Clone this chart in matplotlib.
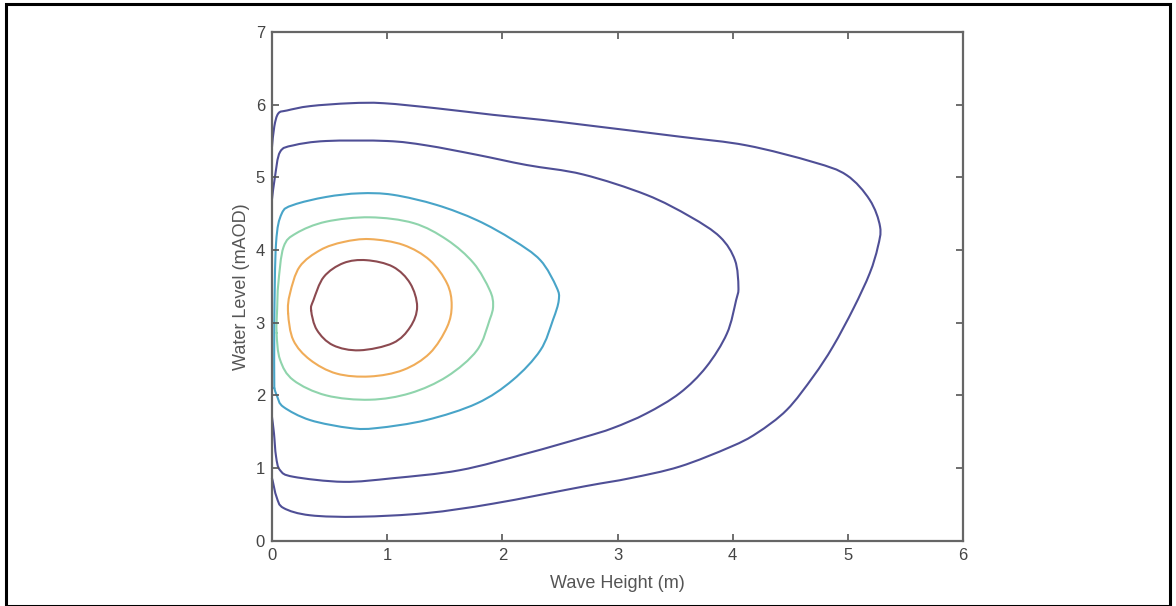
import matplotlib
matplotlib.use("Agg")
import matplotlib.pyplot as plt
from matplotlib.patches import Rectangle, PathPatch
from matplotlib.path import Path
import numpy as np

plt.rcParams['font.family'] = ['Liberation Sans', 'DejaVu Sans']

# Contour lines (wave height m, water level mAOD)
c1_x = [0.0, 0.005, 0.04, 0.10, 0.33, 0.76, 1.34, 1.92, 2.72, 3.11, 3.54, 3.98, 4.21, 4.47, 4.70, 4.87,
        5.05, 5.19, 5.26, 5.28, 5.19, 4.99, 4.70, 4.12, 3.54, 2.72, 2.35, 1.92, 1.43, 0.97, 0.68, 0.33,
        0.13, 0.055, 0.02, 0.0]
c1_y = [0.85, 0.83, 0.60, 0.45, 0.35, 0.33, 0.38, 0.51, 0.75, 0.86, 1.02, 1.29, 1.48, 1.80, 2.26, 2.67,
        3.20, 3.68, 4.04, 4.32, 4.69, 5.03, 5.21, 5.44, 5.56, 5.72, 5.79, 5.86, 5.95, 6.02, 6.02, 5.98,
        5.92, 5.88, 5.70, 5.42]

c2_x = [0.0, 0.017, 0.035, 0.07, 0.185, 0.62, 1.05, 1.63, 2.21, 2.70, 2.96, 3.25, 3.54, 3.77, 3.95,
        4.03, 4.05, 4.02, 3.89, 3.63, 3.25, 2.70, 2.21, 1.78, 1.34, 1.00, 0.47, 0.185, 0.07, 0.026, 0.0]
c2_y = [1.70, 1.48, 1.16, 0.97, 0.88, 0.81, 0.86, 0.97, 1.20, 1.42, 1.55, 1.75, 2.03, 2.39, 2.85,
        3.31, 3.49, 3.86, 4.18, 4.46, 4.76, 5.04, 5.17, 5.31, 5.44, 5.50, 5.50, 5.44, 5.35, 5.01, 4.70]

c3_x = [0.02, 0.046, 0.10, 0.33, 0.68, 0.91, 1.34, 1.78, 2.09, 2.33, 2.44, 2.49, 2.47, 2.33, 2.09,
        1.78, 1.43, 1.05, 0.76, 0.47, 0.185, 0.084, 0.035, 0.02, 0.02]
c3_y = [2.10, 1.98, 1.84, 1.66, 1.55, 1.55, 1.66, 1.89, 2.21, 2.62, 3.04, 3.31, 3.49, 3.86, 4.14,
        4.41, 4.62, 4.76, 4.78, 4.73, 4.62, 4.50, 4.09, 3.00, 2.10]

c4_x = [0.04, 0.07, 0.185, 0.47, 0.85, 1.20, 1.52, 1.78, 1.89, 1.92, 1.89, 1.75, 1.52, 1.23, 0.85,
        0.47, 0.21, 0.10, 0.055, 0.045, 0.04]
c4_y = [2.86, 2.49, 2.21, 2.00, 1.94, 2.03, 2.26, 2.62, 3.04, 3.24, 3.45, 3.82, 4.14, 4.37, 4.45,
        4.39, 4.23, 4.04, 3.54, 3.20, 2.86]

c5_x = [0.14, 0.185, 0.33, 0.56, 0.85, 1.14, 1.37, 1.52, 1.56, 1.52, 1.37, 1.14, 0.85, 0.62, 0.42,
        0.24, 0.156, 0.14]
c5_y = [3.13, 2.76, 2.49, 2.30, 2.26, 2.35, 2.58, 2.94, 3.24, 3.54, 3.86, 4.07, 4.15, 4.11, 4.00,
        3.77, 3.40, 3.13]

c6_x = [0.34, 0.39, 0.53, 0.76, 1.05, 1.20, 1.26, 1.20, 1.05, 0.82, 0.62, 0.45, 0.36, 0.34]
c6_y = [3.17, 2.90, 2.69, 2.62, 2.72, 2.94, 3.22, 3.54, 3.77, 3.86, 3.82, 3.63, 3.31, 3.17]

contours = [(c1_x, c1_y), (c2_x, c2_y), (c3_x, c3_y), (c4_x, c4_y), (c5_x, c5_y), (c6_x, c6_y)]
colors = ['#4f4f96', '#4f4f96', '#48a4c8', '#8fd4ac', '#f0ac58', '#8c4a50']

x_ticks = [0, 1, 2, 3, 4, 5, 6]
y_ticks = [0, 1, 2, 3, 4, 5, 6, 7]


def smooth_path(xs, ys, closed):
    """Bezier path through the read points (Catmull-Rom style control points)."""
    p = np.column_stack([xs, ys]).astype(float)
    n = len(p)
    verts = [p[0]]
    codes = [Path.MOVETO]
    for i in range(n - 1):
        if closed:
            p0 = p[i - 1] if i > 0 else p[-2]
            p3 = p[i + 2] if i + 2 < n else p[1]
        else:
            p0 = p[i - 1] if i > 0 else p[i]
            p3 = p[i + 2] if i + 2 < n else p[i + 1]
        p1, p2 = p[i], p[i + 1]
        verts += [p1 + (p2 - p0) / 6.0, p2 - (p3 - p1) / 6.0, p2]
        codes += [Path.CURVE4] * 3
    return Path(verts, codes)


fig = plt.figure(figsize=(11.76, 6.06), dpi=100)
ax = fig.add_axes([272/1176, 1 - 540.7/606, 691/1176, 508.7/606])

closed_flags = [False, False, False, True, True, True]
for (xs, ys), col, cl in zip(contours, colors, closed_flags):
    patch = PathPatch(smooth_path(xs, ys, cl), facecolor='none', edgecolor=col, lw=1.5,
                      clip_on=False, joinstyle='round', capstyle='round')
    ax.add_patch(patch)

ax.set_xlim(0, 6)
ax.set_ylim(0, 7)
ax.set_xticks(x_ticks)
ax.set_yticks(y_ticks)
ax.tick_params(direction='in', length=5, width=1.2, color='#555555', labelcolor='#444444',
               labelsize=12, top=True, right=True, pad=5)
for s in ax.spines.values():
    s.set_color('#666666')
    s.set_linewidth(1.6)
ax.set_xlabel('Wave Height (m)', fontsize=13, color='#555555', labelpad=9)
ax.set_ylabel('Water Level (mAOD)', fontsize=13, color='#555555', labelpad=4)

# outer frame of the picture
fig.patches.append(Rectangle((6/1176, 0), 1164/1176, 1 - 4/606, transform=fig.transFigure,
                             fill=False, edgecolor='black', linewidth=2.2))

fig.savefig('out.png', dpi=100)
